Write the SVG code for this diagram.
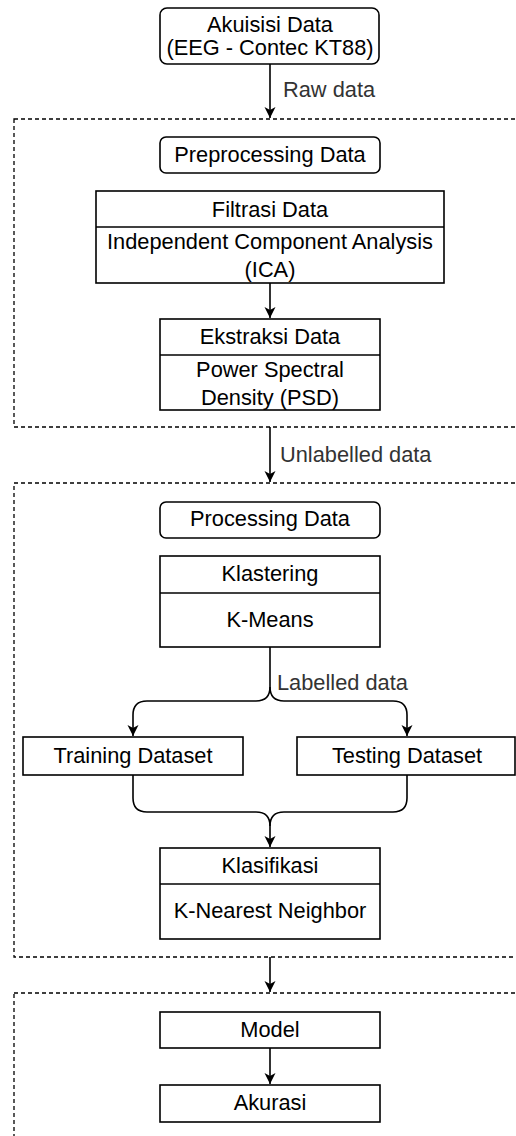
<svg xmlns="http://www.w3.org/2000/svg" width="516" height="1136" viewBox="0 0 516 1136">
<style>
text{font-family:"Liberation Sans",Arial,sans-serif;font-size:21.8px;fill:#000;text-anchor:middle}
.lbl{fill:#333;text-anchor:start}
.box{fill:#fff;stroke:#000;stroke-width:1.6}
.grp{fill:none;stroke:#000;stroke-width:1.3;stroke-dasharray:4 3}
.con{fill:none;stroke:#000;stroke-width:1.6}
</style>
<defs>
<marker id="ah" markerWidth="12" markerHeight="12" viewBox="0 0 12 12" refX="11" refY="6" orient="auto" markerUnits="userSpaceOnUse">
<path d="M0,0.5 L11,6 L0,11.5 L3,6 Z" fill="#000"/>
</marker>
</defs>
<rect class="grp" x="14" y="119" width="520" height="308"/>
<rect class="grp" x="14" y="483" width="520" height="474"/>
<rect class="grp" x="14" y="993" width="520" height="200"/>
<g id="connectors">
<path class="con" d="M270,64 V118" marker-end="url(#ah)"/>
<path class="con" d="M270,283 V318" marker-end="url(#ah)"/>
<path class="con" d="M270,427 V482" marker-end="url(#ah)"/>
<path class="con" d="M270,647 V687 Q270,701 256,701 H147 Q133,701 133,715 V736" marker-end="url(#ah)"/>
<path class="con" d="M270,687 Q270,701 284,701 H393 Q407,701 407,715 V736" marker-end="url(#ah)"/>
<path class="con" d="M133,775 V798 Q133,812 147,812 H256 Q270,812 270,826 V847" marker-end="url(#ah)"/>
<path class="con" d="M407,775 V798 Q407,812 393,812 H284 Q270,812 270,826"/>
<path class="con" d="M270,957 V992" marker-end="url(#ah)"/>
<path class="con" d="M270,1048 V1084" marker-end="url(#ah)"/>
<text class="lbl" x="283" y="97">Raw data</text>
<text class="lbl" x="280" y="462">Unlabelled data</text>
<text class="lbl" x="277" y="690">Labelled data</text>
</g>
<g id="akuisisi">
<rect class="box" x="160" y="8" width="219" height="56" rx="7"/>
<text x="270" y="32">Akuisisi Data</text>
<text x="270" y="55">(EEG - Contec KT88)</text>
</g>
<g id="preprocessing">
<rect class="box" x="160" y="137" width="220" height="36" rx="6"/>
<text x="270" y="162">Preprocessing Data</text>
</g>
<g id="filtrasi">
<rect class="box" x="96" y="191" width="348" height="92"/>
<line class="con" x1="96" y1="227" x2="444" y2="227"/>
<text x="270" y="217">Filtrasi Data</text>
<text x="270" y="249">Independent Component Analysis</text>
<text x="270" y="277">(ICA)</text>
</g>
<g id="ekstraksi">
<rect class="box" x="160" y="319" width="220" height="91"/>
<line class="con" x1="160" y1="355" x2="380" y2="355"/>
<text x="270" y="344">Ekstraksi Data</text>
<text x="270" y="377">Power Spectral</text>
<text x="270" y="405">Density (PSD)</text>
</g>
<g id="processing">
<rect class="box" x="160" y="502" width="220" height="36" rx="6"/>
<text x="270" y="526">Processing Data</text>
</g>
<g id="klastering">
<rect class="box" x="160" y="556" width="220" height="91"/>
<line class="con" x1="160" y1="593" x2="380" y2="593"/>
<text x="270" y="581">Klastering</text>
<text x="270" y="627">K-Means</text>
</g>
<g id="training">
<rect class="box" x="23" y="737" width="220" height="38"/>
<text x="133" y="763">Training Dataset</text>
</g>
<g id="testing">
<rect class="box" x="297" y="737" width="218" height="38"/>
<text x="407" y="763">Testing Dataset</text>
</g>
<g id="klasifikasi">
<rect class="box" x="160" y="848" width="220" height="91"/>
<line class="con" x1="160" y1="884" x2="380" y2="884"/>
<text x="270" y="873">Klasifikasi</text>
<text x="270" y="918">K-Nearest Neighbor</text>
</g>
<g id="model">
<rect class="box" x="160" y="1012" width="220" height="36"/>
<text x="270" y="1037">Model</text>
</g>
<g id="akurasi">
<rect class="box" x="160" y="1085" width="220" height="37"/>
<text x="270" y="1110">Akurasi</text>
</g>
</svg>
